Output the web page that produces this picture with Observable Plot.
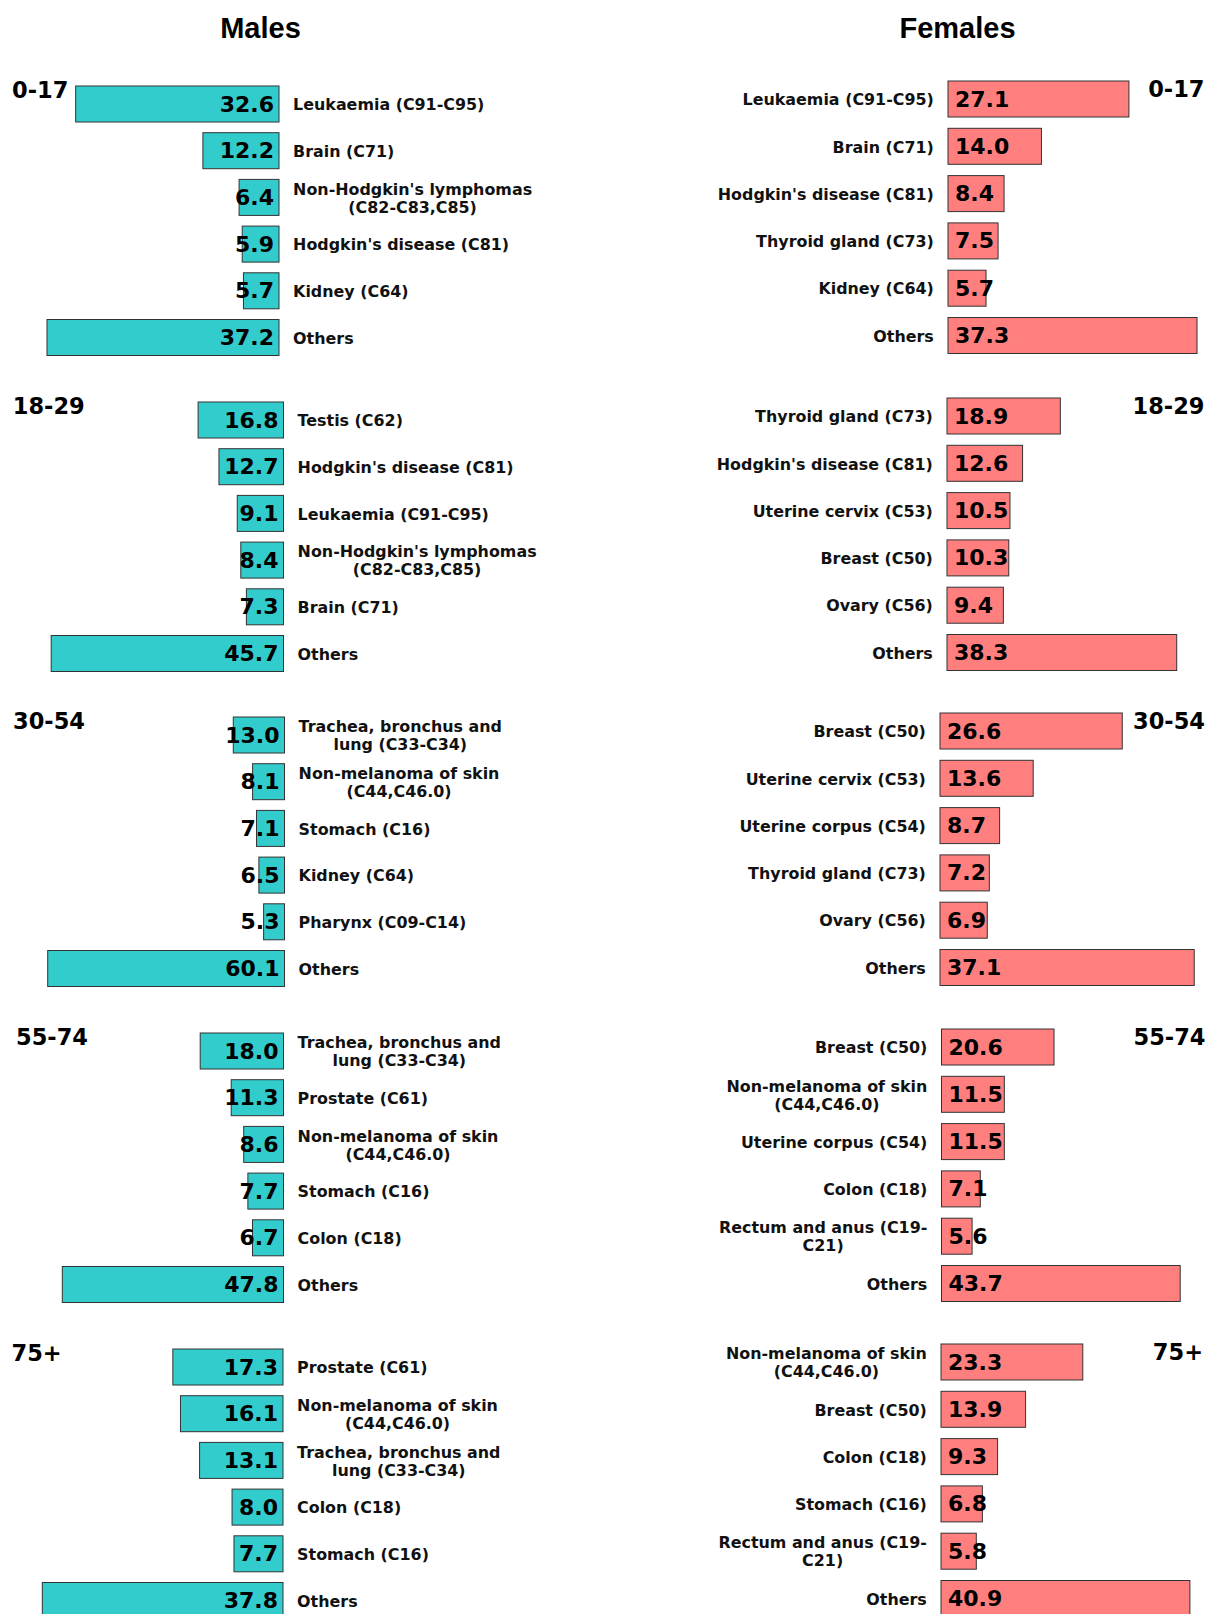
<!DOCTYPE html>
<html>
<head>
<meta charset="utf-8">
<script src="https://cdn.jsdelivr.net/npm/d3@7"></script>
<script src="https://cdn.jsdelivr.net/npm/@observablehq/plot@0.6"></script>
<style>
  html, body { margin: 0; padding: 0; background: #fff; }
  #chart { position: relative; width: 1208px; height: 1614px; overflow: hidden; background: #fff; }
  #chart svg { position: absolute; overflow: visible; }
</style>
</head>
<body>
<div id="chart"></div>
<script>
// ---------------- DATA ----------------
const ageGroups = ["0-17", "18-29", "30-54", "55-74", "75+"];
const sexTitles = ["Males", "Females"];

const NHL = "Non-Hodgkin's lymphomas\n(C82-C83,C85)";
const LUNG = "Trachea, bronchus and\nlung (C33-C34)";
const NMSC = "Non-melanoma of skin\n(C44,C46.0)";
const RECTUM = "Rectum and anus (C19-\nC21)";

const maleSites_0_17 = ["Leukaemia (C91-C95)", "Brain (C71)", NHL, "Hodgkin's disease (C81)", "Kidney (C64)", "Others"];
const maleRates_0_17 = [32.6, 12.2, 6.4, 5.9, 5.7, 37.2];
const maleSites_18_29 = ["Testis (C62)", "Hodgkin's disease (C81)", "Leukaemia (C91-C95)", NHL, "Brain (C71)", "Others"];
const maleRates_18_29 = [16.8, 12.7, 9.1, 8.4, 7.3, 45.7];
const maleSites_30_54 = [LUNG, NMSC, "Stomach (C16)", "Kidney (C64)", "Pharynx (C09-C14)", "Others"];
const maleRates_30_54 = [13.0, 8.1, 7.1, 6.5, 5.3, 60.1];
const maleSites_55_74 = [LUNG, "Prostate (C61)", NMSC, "Stomach (C16)", "Colon (C18)", "Others"];
const maleRates_55_74 = [18.0, 11.3, 8.6, 7.7, 6.7, 47.8];
const maleSites_75 = ["Prostate (C61)", NMSC, LUNG, "Colon (C18)", "Stomach (C16)", "Others"];
const maleRates_75 = [17.3, 16.1, 13.1, 8.0, 7.7, 37.8];

const femaleSites_0_17 = ["Leukaemia (C91-C95)", "Brain (C71)", "Hodgkin's disease (C81)", "Thyroid gland (C73)", "Kidney (C64)", "Others"];
const femaleRates_0_17 = [27.1, 14.0, 8.4, 7.5, 5.7, 37.3];
const femaleSites_18_29 = ["Thyroid gland (C73)", "Hodgkin's disease (C81)", "Uterine cervix (C53)", "Breast (C50)", "Ovary (C56)", "Others"];
const femaleRates_18_29 = [18.9, 12.6, 10.5, 10.3, 9.4, 38.3];
const femaleSites_30_54 = ["Breast (C50)", "Uterine cervix (C53)", "Uterine corpus (C54)", "Thyroid gland (C73)", "Ovary (C56)", "Others"];
const femaleRates_30_54 = [26.6, 13.6, 8.7, 7.2, 6.9, 37.1];
const femaleSites_55_74 = ["Breast (C50)", NMSC, "Uterine corpus (C54)", "Colon (C18)", RECTUM, "Others"];
const femaleRates_55_74 = [20.6, 11.5, 11.5, 7.1, 5.6, 43.7];
const femaleSites_75 = [NMSC, "Breast (C50)", "Colon (C18)", "Stomach (C16)", RECTUM, "Others"];
const femaleRates_75 = [23.3, 13.9, 9.3, 6.8, 5.8, 40.9];

const maleSites = [maleSites_0_17, maleSites_18_29, maleSites_30_54, maleSites_55_74, maleSites_75];
const maleRates = [maleRates_0_17, maleRates_18_29, maleRates_30_54, maleRates_55_74, maleRates_75];
const femaleSites = [femaleSites_0_17, femaleSites_18_29, femaleSites_30_54, femaleSites_55_74, femaleSites_75];
const femaleRates = [femaleRates_0_17, femaleRates_18_29, femaleRates_30_54, femaleRates_55_74, femaleRates_75];

// ---------------- LAYOUT / STYLE ----------------
const W = 1208, HALF = 604;
const BAR_H = 36;
const MALE_STEP = 46.7, FEMALE_STEP = 47.3;
const maleLayout = {
  barTop: [86, 401.7, 717.3, 1033.3, 1349.3],
  base:   [279, 283.5, 284.5, 283.5, 283],
  edge:   [47, 51.2, 47.7, 62.3, 42.3],
  ageX:   [11.5, 12.3, 12.5, 15.5, 11],
  ageDy:  11.8,
  labelGap: 13.6
};
const femaleLayout = {
  barTop: [81, 398.3, 713.3, 1028.7, 1344.3],
  base:   [948, 947, 940, 941.5, 941],
  edge:   [1197, 1176.7, 1194.2, 1180.2, 1189.9],
  ageX:   [1204, 1204, 1204.5, 1205, 1202.5],
  ageDy:  15.5,
  labelGap: 14.7
};
const MALE_FILL = "#33CCCC", FEMALE_FILL = "#FF7F7F", BAR_STROKE = "#333333";
const TEXT_FONT = "DejaVu Sans";
const LABEL_SIZE = 15.9, VALUE_SIZE = 22, AGE_SIZE = 22.5;
const fmt = d3.format(".1f");

const ctx = document.createElement("canvas").getContext("2d");
function blockWidth(s, size) {
  ctx.font = `bold ${size}px "${TEXT_FONT}"`;
  return Math.max(...s.split("\n").map(l => ctx.measureText(l).width));
}

const chart = document.getElementById("chart");

function panel(sites, rates, age, i, male) {
  const L = male ? maleLayout : femaleLayout;
  const step = male ? MALE_STEP : FEMALE_STEP;
  const n = sites.length;
  const pi = 1 - BAR_H / step;
  const innerH = step * (n - pi);
  const mt = 32, mb = 12;
  const H = mt + innerH + mb;
  const left = male ? 0 : HALF;
  const base = L.base[i], edge = L.edge[i];
  const marginLeft = male ? edge : base - left;
  const marginRight = male ? HALF - base : HALF - (edge - left);
  const data = sites.map((s, k) => ({site: s, rate: rates[k]}));
  const maxRate = d3.max(rates);

  const labelMarks = data.map(d => {
    const w = blockWidth(d.site, LABEL_SIZE);
    return Plot.text([d], {
      y: "site", text: "site",
      frameAnchor: male ? "right" : "left",
      textAnchor: "middle",
      lineHeight: 1.13,
      dx: male ? L.labelGap + w / 2 : -(L.labelGap + w / 2),
      fontFamily: TEXT_FONT, fontWeight: "bold", fontSize: LABEL_SIZE, fill: "#111"
    });
  });

  const svg = Plot.plot({
    width: HALF, height: H,
    marginTop: mt, marginBottom: mb, marginLeft, marginRight,
    x: {domain: [0, maxRate], reverse: male, axis: null},
    y: {domain: sites, paddingInner: pi, paddingOuter: 0, round: false, axis: null},
    marks: [
      Plot.barX(data, {x: "rate", y: "site", fill: male ? MALE_FILL : FEMALE_FILL, stroke: BAR_STROKE, strokeWidth: 1}),
      Plot.text(data, {
        y: "site", text: d => fmt(d.rate),
        frameAnchor: male ? "right" : "left",
        textAnchor: male ? "end" : "start",
        dx: male ? -5.5 : 6.5,
        fontFamily: TEXT_FONT, fontWeight: "bold", fontSize: VALUE_SIZE, fill: "#000"
      }),
      ...labelMarks,
      Plot.text([age], {
        text: d => d,
        frameAnchor: male ? "top-left" : "top-right",
        textAnchor: male ? "start" : "end",
        lineAnchor: "bottom",
        dx: male ? L.ageX[i] - marginLeft : L.ageX[i] - edge,
        dy: L.ageDy,
        fontFamily: TEXT_FONT, fontWeight: "bold", fontSize: AGE_SIZE, fill: "#000"
      })
    ]
  });
  svg.style.left = left + "px";
  svg.style.top = (L.barTop[i] - mt) + "px";
  chart.appendChild(svg);
}

ageGroups.forEach((age, i) => {
  panel(maleSites[i], maleRates[i], age, i, true);
  panel(femaleSites[i], femaleRates[i], age, i, false);
});

// Titles
const titleX = [260.5, 957.5];
const tsvg = d3.select(chart).append("svg")
  .attr("width", W).attr("height", 50)
  .style("left", "0px").style("top", "0px");
tsvg.selectAll("text").data(sexTitles).join("text")
  .attr("x", (d, k) => titleX[k]).attr("y", 38.3)
  .attr("text-anchor", "middle")
  .attr("font-family", "Liberation Sans, Arial, sans-serif")
  .attr("font-weight", "bold").attr("font-size", 29)
  .attr("fill", "#000")
  .text(d => d);
</script>
</body>
</html>
